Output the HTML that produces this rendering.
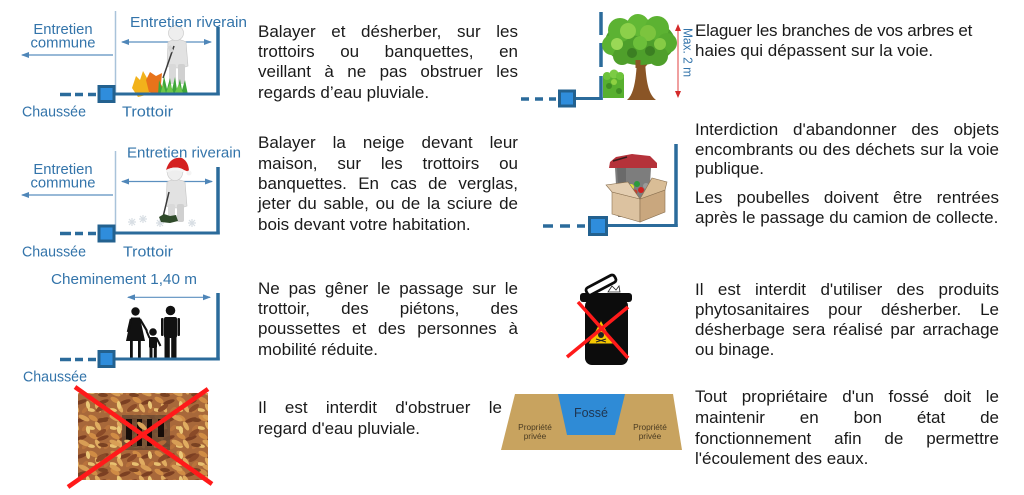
<!DOCTYPE html>
<html>
<head>
<meta charset="utf-8">
<style>
html,body{margin:0;padding:0;width:1024px;height:495px;overflow:hidden;background:#fff}
body{position:relative;font-family:"Liberation Sans",sans-serif}
svg{position:absolute;left:0;top:0}
.t{position:absolute;font-size:17px;line-height:20px;height:20px;color:#1a1a1a;white-space:nowrap}
.j{display:flex;justify-content:space-between}
.L{left:258px;width:260px}
.R{left:695px;width:304px}
</style>
</head>
<body>
<svg width="1024" height="495" viewBox="0 0 1024 495" xmlns="http://www.w3.org/2000/svg" font-family="Liberation Sans, sans-serif">
<defs>
<marker id="ah" markerWidth="8" markerHeight="6" refX="7" refY="3" orient="auto-start-reverse" markerUnits="userSpaceOnUse">
<path d="M0,0 L8,3 L0,6 z" fill="#4f86b8"/>
</marker>
<marker id="ar" markerWidth="7" markerHeight="6" refX="6" refY="3" orient="auto-start-reverse" markerUnits="userSpaceOnUse">
<path d="M0,0 L7,3 L0,6 z" fill="#d42a2a"/>
</marker>
<pattern id="lv" width="22" height="18" patternUnits="userSpaceOnUse">
<rect width="22" height="18" fill="#a8683a"/>
<ellipse cx="5" cy="4" rx="5" ry="2.5" fill="#d08c45" transform="rotate(30 5 4)"/>
<ellipse cx="15" cy="6" rx="6" ry="2" fill="#7b3f22" transform="rotate(-20 15 6)"/>
<ellipse cx="10" cy="12" rx="5" ry="2.2" fill="#e0ac60" transform="rotate(60 10 12)"/>
<ellipse cx="19" cy="14" rx="4" ry="2" fill="#b8733c" transform="rotate(-45 19 14)"/>
<ellipse cx="3" cy="14" rx="4" ry="1.8" fill="#e8c070" transform="rotate(10 3 14)"/>
</pattern>
<pattern id="lv2" width="31" height="25" patternUnits="userSpaceOnUse">
<ellipse cx="8" cy="8" rx="6" ry="2.5" fill="#8a4a28" transform="rotate(-35 8 8)"/>
<ellipse cx="22" cy="18" rx="6" ry="2.4" fill="#d89e55" transform="rotate(25 22 18)"/>
<ellipse cx="26" cy="5" rx="4" ry="2" fill="#eac878" transform="rotate(80 26 5)"/>
<ellipse cx="10" cy="20" rx="5" ry="2" fill="#7a4222" transform="rotate(5 10 20)"/>
</pattern>
</defs>

<!-- ===== Diagram 1 ===== -->
<line x1="115.5" y1="11" x2="115.5" y2="94" stroke="#a9c3da" stroke-width="1.5"/>
<line x1="113" y1="55" x2="22" y2="55" stroke="#5b8fbf" stroke-width="1.2" marker-end="url(#ah)"/>
<line x1="122" y1="42" x2="211" y2="42" stroke="#5b8fbf" stroke-width="1.2" marker-start="url(#ah)" marker-end="url(#ah)"/>
<path d="M168,42 Q177,37 186,42 L188,66 Q178,70 167,66 Z" fill="#e2e2e2" stroke="#c4c4c4" stroke-width="0.6"/>
<rect x="169" y="64" width="7" height="20" rx="2" fill="#d9d9d9"/>
<rect x="178" y="64" width="7" height="20" rx="2" fill="#d0d0d0"/>
<circle cx="176" cy="33" r="7.5" fill="#eeeeee" stroke="#c4c4c4" stroke-width="0.6"/>
<line x1="174" y1="46" x2="163" y2="78" stroke="#3a3a3a" stroke-width="1.5"/>
<path d="M169,46 L172,52" stroke="#d5d5d5" stroke-width="4"/>
<path d="M132,88 L136,76 L140,80 L143,71 L147,78 L152,74 L150,86 L155,88 L146,95 L138,97 Z" fill="#f2b21b"/>
<path d="M146,80 L150,72 L156,76 L162,73 L161,84 L164,90 L156,94 L149,92 Z" fill="#e8731a"/>
<path d="M158,95 L159,80 L162,88 L164,76 L167,89 L170,78 L172,90 L175,77 L177,90 L180,79 L182,90 L185,80 L188,95 Z" fill="#3fa63a"/>
<path d="M160,95 L163,84 L166,93 L170,83 L174,94 L179,84 L184,95 Z" fill="#6cc84a"/>
<line x1="218" y1="27" x2="218" y2="95.5" stroke="#2b6b9b" stroke-width="3.5"/>
<line x1="113" y1="94" x2="219.7" y2="94" stroke="#2b6b9b" stroke-width="3"/>
<rect x="99" y="86.5" width="15" height="15" fill="#2f8ddc" stroke="#23618f" stroke-width="3"/>
<g stroke="#2b6b9b" stroke-width="3.5">
<line x1="60" y1="94.5" x2="71" y2="94.5"/><line x1="75" y1="94.5" x2="83" y2="94.5"/><line x1="88" y1="94.5" x2="96" y2="94.5"/>
</g>
<g fill="#3374aa" font-size="14.8">
<text x="63" y="34" text-anchor="middle">Entretien</text>
<text x="63" y="47.5" text-anchor="middle">commune</text>
<text x="130" y="27" textLength="117" lengthAdjust="spacingAndGlyphs">Entretien riverain</text>
<text x="22" y="116.5" textLength="64" lengthAdjust="spacingAndGlyphs">Chaussée</text>
<text x="122" y="116.5" textLength="51" lengthAdjust="spacingAndGlyphs">Trottoir</text>
</g>

<!-- ===== Diagram 2 ===== -->
<line x1="115.5" y1="151" x2="115.5" y2="233" stroke="#a9c3da" stroke-width="1.5"/>
<line x1="113" y1="195" x2="22" y2="195" stroke="#5b8fbf" stroke-width="1.2" marker-end="url(#ah)"/>
<line x1="122" y1="181.5" x2="212" y2="181.5" stroke="#5b8fbf" stroke-width="1.2" marker-start="url(#ah)" marker-end="url(#ah)"/>
<g stroke="#d8dee4" stroke-width="1.2">
<path d="M128,222 h8 M132,218 v8 M129,219 l6,6 M135,219 l-6,6"/>
<path d="M139,219 h8 M143,215 v8 M140,216 l6,6 M146,216 l-6,6"/>
<path d="M156,223 h8 M160,219 v8 M157,220 l6,6 M163,220 l-6,6"/>
<path d="M188,223 h8 M192,219 v8 M189,220 l6,6 M195,220 l-6,6"/>
</g>
<path d="M167,182 Q176,177 185,182 L187,206 Q177,210 166,206 Z" fill="#e2e2e2" stroke="#c4c4c4" stroke-width="0.6"/>
<rect x="168" y="204" width="7" height="18" rx="2" fill="#d9d9d9"/>
<rect x="177" y="204" width="7" height="18" rx="2" fill="#d0d0d0"/>
<circle cx="175" cy="173" r="7.5" fill="#eeeeee" stroke="#c4c4c4" stroke-width="0.6"/>
<path d="M166,170 Q170,156 182,158 Q189,162 189,172 L184,170 Q176,165 166,170 Z" fill="#d42020"/>
<path d="M166,170 Q176,165 184,170 L184,173 Q176,168 166,173 Z" fill="#f4f4f4"/>
<circle cx="189" cy="173" r="2.5" fill="#f4f4f4"/>
<line x1="169" y1="192" x2="163" y2="217" stroke="#3a3a3a" stroke-width="1.5"/>
<path d="M159,217 L164,214 L170,216 L176,215 L178,221 L170,223 L161,222 Z" fill="#2f4a2a"/>
<line x1="218" y1="167" x2="218" y2="234.5" stroke="#2b6b9b" stroke-width="3.5"/>
<line x1="113" y1="233" x2="219.7" y2="233" stroke="#2b6b9b" stroke-width="3"/>
<rect x="99" y="226" width="15" height="15" fill="#2f8ddc" stroke="#23618f" stroke-width="3"/>
<g stroke="#2b6b9b" stroke-width="3.5">
<line x1="60" y1="233.5" x2="71" y2="233.5"/><line x1="75" y1="233.5" x2="83" y2="233.5"/><line x1="88" y1="233.5" x2="96" y2="233.5"/>
</g>
<g fill="#3374aa" font-size="14.8">
<text x="63" y="174" text-anchor="middle">Entretien</text>
<text x="63" y="187.5" text-anchor="middle">commune</text>
<text x="127" y="157.3" textLength="114" lengthAdjust="spacingAndGlyphs">Entretien riverain</text>
<text x="22" y="256.5" textLength="64" lengthAdjust="spacingAndGlyphs">Chaussée</text>
<text x="123" y="256.5" textLength="50" lengthAdjust="spacingAndGlyphs">Trottoir</text>
</g>

<!-- ===== Diagram 3 ===== -->
<line x1="128" y1="297.3" x2="210" y2="297.3" stroke="#5b8fbf" stroke-width="1.2" marker-start="url(#ah)" marker-end="url(#ah)"/>
<g fill="#111">
<circle cx="135.5" cy="311.5" r="4.2"/>
<path d="M131,317.5 L140,317.5 L145,341 L126,341 Z"/>
<line x1="131" y1="319" x2="128" y2="332" stroke="#111" stroke-width="2.5"/>
<line x1="140" y1="319" x2="147" y2="331" stroke="#111" stroke-width="2.2"/>
<rect x="130" y="340" width="2.8" height="18"/>
<rect x="138" y="340" width="2.8" height="18"/>
<circle cx="153" cy="332" r="3.8"/>
<rect x="149" y="337" width="8" height="11" rx="1.5"/>
<line x1="149.5" y1="338" x2="146.5" y2="331" stroke="#111" stroke-width="2"/>
<line x1="156.5" y1="338" x2="160.5" y2="346" stroke="#111" stroke-width="2"/>
<rect x="149.5" y="347" width="3" height="11"/>
<rect x="153.8" y="347" width="3" height="11"/>
<circle cx="170.5" cy="310.5" r="4.8"/>
<rect x="164" y="317" width="13" height="21" rx="2"/>
<rect x="161" y="318" width="2.6" height="18" rx="1"/>
<rect x="177.4" y="318" width="2.6" height="18" rx="1"/>
<rect x="164.5" y="336" width="5.3" height="22"/>
<rect x="171.2" y="336" width="5.3" height="22"/>
</g>
<line x1="218" y1="293" x2="218" y2="360.5" stroke="#2b6b9b" stroke-width="3.5"/>
<line x1="113" y1="359" x2="219.7" y2="359" stroke="#2b6b9b" stroke-width="3"/>
<rect x="99" y="351.5" width="15" height="15" fill="#2f8ddc" stroke="#23618f" stroke-width="3"/>
<g stroke="#2b6b9b" stroke-width="3.5">
<line x1="60" y1="359.5" x2="71" y2="359.5"/><line x1="75" y1="359.5" x2="83" y2="359.5"/><line x1="88" y1="359.5" x2="96" y2="359.5"/>
</g>
<g fill="#3374aa" font-size="14.8">
<text x="51" y="284" textLength="146" lengthAdjust="spacingAndGlyphs">Cheminement 1,40 m</text>
<text x="23" y="381.5" textLength="64" lengthAdjust="spacingAndGlyphs">Chaussée</text>
</g>

<!-- ===== Diagram 4 : leaves ===== -->
<rect x="78" y="393" width="130" height="87" fill="url(#lv)"/>
<rect x="78" y="393" width="130" height="87" fill="url(#lv2)"/>
<rect x="122" y="415" width="48" height="35" fill="#6b4a32" opacity="0.85"/>
<g fill="#150c08">
<rect x="126" y="419" width="6" height="27"/>
<rect x="137" y="419" width="5" height="27"/>
<rect x="147" y="419" width="5" height="27"/>
<rect x="158" y="419" width="6" height="18"/>
</g>
<ellipse cx="142" cy="426" rx="6" ry="2.4" fill="#d9a35a" transform="rotate(40 142 426)"/>
<ellipse cx="160" cy="444" rx="7" ry="2.5" fill="#b06a38" transform="rotate(-25 160 444)"/>
<ellipse cx="129" cy="442" rx="5" ry="2" fill="#e0b86a" transform="rotate(15 129 442)"/>
<g stroke="#ff1a1a" stroke-width="4.5">
<line x1="75" y1="387" x2="212" y2="484"/>
<line x1="208" y1="389" x2="68" y2="487"/>
</g>

<!-- ===== Tree diagram ===== -->
<g stroke="#2b6b9b" stroke-width="3.5">
<line x1="601" y1="12" x2="601" y2="35"/>
<line x1="601" y1="43" x2="601" y2="67"/>
<line x1="601" y1="76" x2="601" y2="100"/>
<line x1="575" y1="98.5" x2="602.7" y2="98.5" stroke-width="3"/>
<line x1="521" y1="99" x2="529" y2="99"/><line x1="535" y1="99" x2="543" y2="99"/><line x1="549" y1="99" x2="556" y2="99"/>
</g>
<rect x="559.5" y="91" width="15" height="15" fill="#2f8ddc" stroke="#23618f" stroke-width="3"/>
<rect x="603" y="75" width="21" height="23" fill="#58b02f"/>
<circle cx="607" cy="76" r="4" fill="#6cc23a"/><circle cx="614" cy="74" r="4.5" fill="#7ccb45"/><circle cx="620" cy="76" r="4" fill="#6cc23a"/>
<circle cx="609" cy="86" r="3" fill="#3f8d24"/><circle cx="619" cy="91" r="3" fill="#3f8d24"/><circle cx="614" cy="82" r="3" fill="#8ed142"/>
<path d="M627,100 C634,94 636,80 637,60 L645,60 C646,80 648,94 656,100 Z" fill="#8a5526"/>
<line x1="639" y1="66" x2="626" y2="54" stroke="#8a5526" stroke-width="3"/>
<line x1="644" y1="66" x2="657" y2="52" stroke="#8a5526" stroke-width="3"/>
<ellipse cx="640" cy="42" rx="35" ry="23" fill="#4e9f2b"/>
<circle cx="612" cy="45" r="10" fill="#5cb232"/>
<circle cx="620" cy="30" r="12" fill="#5cb232"/>
<circle cx="638" cy="25" r="11" fill="#62b835"/>
<circle cx="657" cy="28" r="12" fill="#5cb232"/>
<circle cx="667" cy="43" r="10" fill="#56ab2f"/>
<circle cx="658" cy="56" r="10" fill="#4f9f2b"/>
<circle cx="622" cy="56" r="9" fill="#4f9f2b"/>
<circle cx="628" cy="31" r="8" fill="#8cd04a"/>
<circle cx="648" cy="33" r="8" fill="#7cc43e"/>
<circle cx="617" cy="44" r="6" fill="#9ad856"/>
<circle cx="660" cy="44" r="6" fill="#86cb45"/>
<circle cx="640" cy="43" r="7" fill="#6cbf3a"/>
<circle cx="632" cy="53" r="5" fill="#3b7f22"/>
<circle cx="650" cy="51" r="5" fill="#3b7f22"/>
<line x1="638" y1="60" x2="638" y2="68" stroke="#8a5526" stroke-width="5"/>
<line x1="678" y1="25" x2="678" y2="97" stroke="#e04040" stroke-width="1" marker-start="url(#ar)" marker-end="url(#ar)"/>
<text transform="translate(683.5,28) rotate(90)" font-size="12.5" fill="#3374aa" textLength="49" lengthAdjust="spacingAndGlyphs">Max. 2 m</text>

<!-- ===== Bin diagram ===== -->
<line x1="676" y1="144" x2="676" y2="227" stroke="#2b6b9b" stroke-width="3.5"/>
<line x1="607" y1="225.5" x2="677.7" y2="225.5" stroke="#2b6b9b" stroke-width="3"/>
<rect x="589.5" y="217.5" width="17" height="17" fill="#2f8ddc" stroke="#23618f" stroke-width="3"/>
<g stroke="#2b6b9b" stroke-width="3.5">
<line x1="543" y1="226" x2="553" y2="226"/><line x1="560" y1="226" x2="570" y2="226"/><line x1="577" y1="226" x2="585" y2="226"/>
</g>
<path d="M615,168 L651,168 L648,217 L618,217 Z" fill="#7d7d7d"/>
<path d="M617,168 L626,168 L626,215 L620,215 Z" fill="#6a6a6a"/>
<path d="M609,168 L610,162 L616,157 L632,154 L650,156 L657,163 L657,168 Z" fill="#b5323a"/>
<line x1="613" y1="161" x2="627" y2="157" stroke="#3a1a1a" stroke-width="1.5"/>
<circle cx="631" cy="187" r="3" fill="#e0e040"/><circle cx="637" cy="184" r="3" fill="#2a9a3a"/>
<circle cx="641" cy="190" r="3" fill="#d02020"/><circle cx="646" cy="186" r="3" fill="#9a9a9a"/>
<circle cx="649" cy="192" r="2.5" fill="#2f8ddc"/><circle cx="635" cy="192" r="2.5" fill="#c04030"/>
<path d="M612,192 L640,199 L640,222 L612,214 Z" fill="#dcc2a0" stroke="#8a7050" stroke-width="0.6"/>
<path d="M640,199 L665,190 L665,212 L640,222 Z" fill="#c9a77e" stroke="#8a7050" stroke-width="0.6"/>
<path d="M612,192 L606,185 L628,182 L640,199 Z" fill="#e3cdb0" stroke="#8a7050" stroke-width="0.6"/>
<path d="M640,199 L665,190 L667,182 L652,178 Z" fill="#d9bd96" stroke="#8a7050" stroke-width="0.6"/>

<!-- ===== Phyto bin ===== -->
<rect x="585" y="299" width="43" height="66" rx="7" fill="#0c0c0c"/>
<rect x="580" y="293" width="52" height="9" rx="3" fill="#0c0c0c"/>
<rect x="585" y="281" width="32" height="8" rx="3" fill="#fff" stroke="#0c0c0c" stroke-width="2.8" transform="rotate(-28 601 285)"/>
<path d="M608,292 L612,286 L616,290 L619,286 L620,292 Z" fill="#fff" stroke="#222" stroke-width="0.8"/>
<path d="M601,320 L614,344 L588,344 Z" fill="#f6c700" stroke="#111" stroke-width="1"/>
<circle cx="601" cy="335" r="3" fill="#222"/>
<line x1="596" y1="339" x2="606" y2="342" stroke="#222" stroke-width="1"/>
<line x1="606" y1="339" x2="596" y2="342" stroke="#222" stroke-width="1"/>
<g stroke="#ff1a1a" stroke-width="3.5">
<line x1="578" y1="302" x2="628" y2="358"/>
<line x1="628" y1="307" x2="567" y2="357"/>
</g>

<!-- ===== Fossé ===== -->
<path d="M515,394 L673,394 L682,450 L501,450 Z" fill="#c8a35f"/>
<path d="M558,394 L625,394 L615,435 L567,435 Z" fill="#2f8bd6"/>
<text x="591" y="417" text-anchor="middle" font-size="12.5" fill="#1f3550">Fossé</text>
<g font-size="8.3" fill="#4a3b22" text-anchor="middle">
<text x="535" y="430">Propriété</text>
<text x="535" y="439">privée</text>
<text x="650" y="430">Propriété</text>
<text x="650" y="439">privée</text>
</g>
</svg>

<!-- ===== Left column text ===== -->
<div class="t j L" style="top:21.6px"><span>Balayer</span><span>et</span><span>désherber,</span><span>sur</span><span>les</span></div>
<div class="t j L" style="top:41.9px"><span>trottoirs</span><span>ou</span><span>banquettes,</span><span>en</span></div>
<div class="t j L" style="top:62.2px"><span>veillant</span><span>à</span><span>ne</span><span>pas</span><span>obstruer</span><span>les</span></div>
<div class="t L" style="top:82.5px">regards d’eau pluviale.</div>

<div class="t j L" style="top:133.4px"><span>Balayer</span><span>la</span><span>neige</span><span>devant</span><span>leur</span></div>
<div class="t j L" style="top:153.7px"><span>maison,</span><span>sur</span><span>les</span><span>trottoirs</span><span>ou</span></div>
<div class="t j L" style="top:174px"><span>banquettes.</span><span>En</span><span>cas</span><span>de</span><span>verglas,</span></div>
<div class="t j L" style="top:194.3px"><span>jeter</span><span>du</span><span>sable,</span><span>ou</span><span>de</span><span>la</span><span>sciure</span><span>de</span></div>
<div class="t L" style="top:214.6px">bois devant votre habitation.</div>

<div class="t j L" style="top:278.8px"><span>Ne</span><span>pas</span><span>gêner</span><span>le</span><span>passage</span><span>sur</span><span>le</span></div>
<div class="t j L" style="top:299.1px"><span>trottoir,</span><span>des</span><span>piétons,</span><span>des</span></div>
<div class="t j L" style="top:319.4px"><span>poussettes</span><span>et</span><span>des</span><span>personnes</span><span>à</span></div>
<div class="t L" style="top:339.7px">mobilité réduite.</div>

<div class="t j" style="left:258px;width:244px;top:398.3px"><span>Il</span><span>est</span><span>interdit</span><span>d'obstruer</span><span>le</span></div>
<div class="t L" style="top:418.6px">regard d'eau pluviale.</div>

<!-- ===== Right column text ===== -->
<div class="t" style="left:695px;top:20.6px;letter-spacing:-0.25px">Elaguer les branches de vos arbres et</div>
<div class="t R" style="top:40.6px">haies qui dépassent sur la voie.</div>

<div class="t j R" style="top:120.1px"><span>Interdiction</span><span>d'abandonner</span><span>des</span><span>objets</span></div>
<div class="t j R" style="top:139.8px"><span>encombrants</span><span>ou</span><span>des</span><span>déchets</span><span>sur</span><span>la</span><span>voie</span></div>
<div class="t R" style="top:159.4px">publique.</div>

<div class="t j R" style="top:188.4px"><span>Les</span><span>poubelles</span><span>doivent</span><span>être</span><span>rentrées</span></div>
<div class="t R" style="top:208.1px">après le passage du camion de collecte.</div>

<div class="t j R" style="top:280.1px"><span>Il</span><span>est</span><span>interdit</span><span>d'utiliser</span><span>des</span><span>produits</span></div>
<div class="t j R" style="top:300.4px"><span>phytosanitaires</span><span>pour</span><span>désherber.</span><span>Le</span></div>
<div class="t j R" style="top:320.4px"><span>désherbage</span><span>sera</span><span>réalisé</span><span>par</span><span>arrachage</span></div>
<div class="t R" style="top:340.4px">ou binage.</div>

<div class="t j R" style="top:387.4px"><span>Tout</span><span>propriétaire</span><span>d'un</span><span>fossé</span><span>doit</span><span>le</span></div>
<div class="t j R" style="top:408.1px"><span>maintenir</span><span>en</span><span>bon</span><span>état</span><span>de</span></div>
<div class="t j R" style="top:428.6px"><span>fonctionnement</span><span>afin</span><span>de</span><span>permettre</span></div>
<div class="t R" style="top:448.6px">l'écoulement des eaux.</div>
</body>
</html>
